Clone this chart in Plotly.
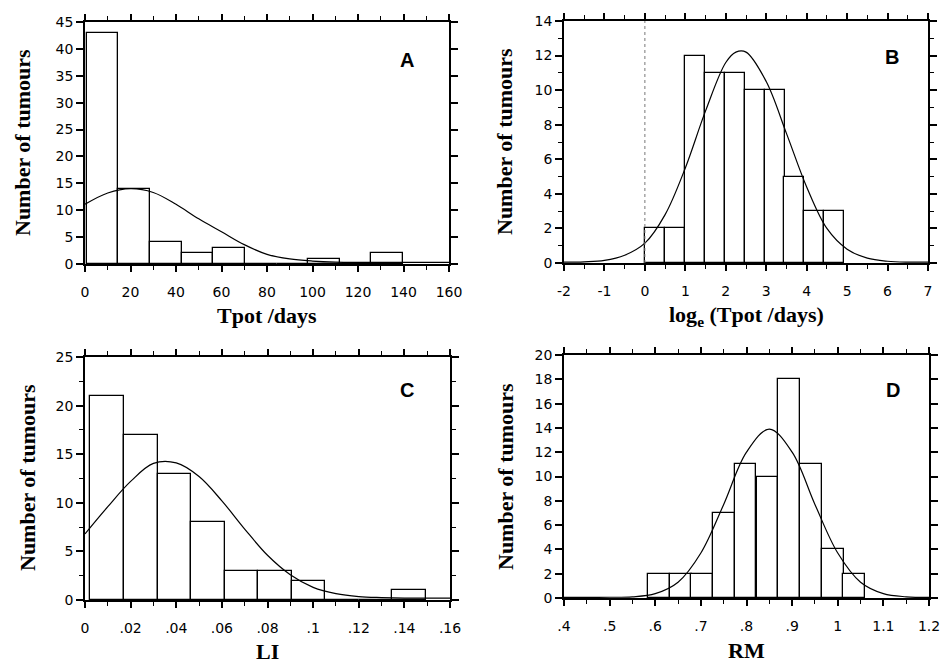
import plotly.graph_objects as go

# ---------------- data ----------------
# Panel A: Tpot /days
a_bin_left = [0.8, 14.7, 28.6, 42.5, 56.4, 70.3, 84.2, 98.1, 112.0, 125.9]
a_bin_width = 13.9
a_counts = [43, 14, 4, 2, 3, 0, 0, 1, 0, 2]
a_curve_x = [0, 10, 20, 30, 40, 50, 60, 70, 80, 90, 100, 110, 120, 130, 140, 150, 160]
a_curve_y = [11.1, 13.2, 14.0, 13.3, 11.1, 8.4, 6.0, 3.6, 1.8, 0.95, 0.55, 0.35, 0.3, 0.3, 0.3, 0.3, 0.3]
a_xticks = [0, 20, 40, 60, 80, 100, 120, 140, 160]
a_xtext = ["0", "20", "40", "60", "80", "100", "120", "140", "160"]
a_yticks = [0, 5, 10, 15, 20, 25, 30, 35, 40, 45]

# Panel B: log_e (Tpot /days)
b_bin_left = [0.0, 0.49, 0.99, 1.48, 1.97, 2.47, 2.96, 3.45, 3.94, 4.44]
b_bin_width = 0.493
b_counts = [2, 2, 12, 11, 11, 10, 10, 5, 3, 3]
b_curve_x = [-2, -1.5, -1, -0.5, 0, 0.5, 1, 1.5, 2, 2.25, 2.5, 3, 3.5, 4, 4.5, 5, 5.5, 6, 6.5, 7]
b_curve_y = [0.05, 0.07, 0.15, 0.45, 1.15, 2.8, 5.5, 8.8, 11.6, 12.2, 12.2, 10.5, 7.5, 4.4, 2.0, 0.8, 0.28, 0.1, 0.05, 0.05]
b_xticks = [-2, -1, 0, 1, 2, 3, 4, 5, 6, 7]
b_xtext = ["-2", "-1", "0", "1", "2", "3", "4", "5", "6", "7"]
b_yticks = [0, 2, 4, 6, 8, 10, 12, 14]
b_ref_x = 0

# Panel C: LI
c_bin_left = [0.0024, 0.0171, 0.0318, 0.0465, 0.0612, 0.0759, 0.0906, 0.1053, 0.1200, 0.1347]
c_bin_width = 0.0147
c_counts = [21, 17, 13, 8, 3, 3, 2, 0, 0, 1]
c_curve_x = [0, 0.01, 0.02, 0.03, 0.04, 0.05, 0.06, 0.07, 0.08, 0.09, 0.10, 0.11, 0.12, 0.13, 0.14, 0.15, 0.16]
c_curve_y = [6.8, 9.6, 12.2, 14.05, 14.1, 12.7, 10.2, 7.3, 4.6, 2.6, 1.3, 0.65, 0.35, 0.25, 0.2, 0.2, 0.2]
c_xticks = [0, 0.02, 0.04, 0.06, 0.08, 0.10, 0.12, 0.14, 0.16]
c_xtext = ["0", ".02", ".04", ".06", ".08", ".1", ".12", ".14", ".16"]
c_yticks = [0, 5, 10, 15, 20, 25]

# Panel D: RM
d_bin_left = [0.584, 0.632, 0.679, 0.727, 0.774, 0.822, 0.870, 0.917, 0.965, 1.012]
d_bin_width = 0.0476
d_counts = [2, 2, 2, 7, 11, 10, 18, 11, 4, 2]
d_curve_x = [0.40, 0.45, 0.50, 0.55, 0.60, 0.65, 0.70, 0.75, 0.80, 0.85, 0.90, 0.95, 1.00, 1.05, 1.10, 1.15, 1.20]
d_curve_y = [0.05, 0.05, 0.06, 0.1, 0.36, 1.3, 3.7, 7.7, 12.0, 13.9, 12.0, 7.7, 3.7, 1.3, 0.36, 0.1, 0.05]
d_xticks = [0.4, 0.5, 0.6, 0.7, 0.8, 0.9, 1.0, 1.1, 1.2]
d_xtext = [".4", ".5", ".6", ".7", ".8", ".9", "1", "1.1", "1.2"]
d_yticks = [0, 2, 4, 6, 8, 10, 12, 14, 16, 18, 20]

# ---------------- figure ----------------
W, H = 942, 664
fig = go.Figure()

panels = [
    dict(n="", left=a_bin_left, w=a_bin_width, cnt=a_counts, cx=a_curve_x, cy=a_curve_y),
    dict(n="2", left=b_bin_left, w=b_bin_width, cnt=b_counts, cx=b_curve_x, cy=b_curve_y),
    dict(n="3", left=c_bin_left, w=c_bin_width, cnt=c_counts, cx=c_curve_x, cy=c_curve_y),
    dict(n="4", left=d_bin_left, w=d_bin_width, cnt=d_counts, cx=d_curve_x, cy=d_curve_y),
]
for p in panels:
    fig.add_trace(go.Bar(x=p["left"], y=p["cnt"], width=p["w"], offset=0,
                         marker=dict(color="white", line=dict(color="black", width=1.3)),
                         xaxis="x" + p["n"], yaxis="y" + p["n"], showlegend=False))
    fig.add_trace(go.Scatter(x=p["cx"], y=p["cy"], mode="lines",
                             line=dict(color="black", width=1.2, shape="spline"),
                             xaxis="x" + p["n"], yaxis="y" + p["n"], showlegend=False))

tickfont = dict(family="DejaVu Sans", size=14, color="black")

def xax(dom_px, rng, tv, tt, minor_dtick, anchor):
    return dict(domain=[dom_px[0] / W, dom_px[1] / W], range=rng, anchor=anchor,
                automargin=False,
                tickmode="array", tickvals=tv, ticktext=tt, tickfont=tickfont,
                showline=True, linecolor="black", linewidth=1.5, mirror="allticks",
                ticks="outside", ticklen=6, tickwidth=1.5, tickcolor="black",
                minor=dict(tickmode="linear", tick0=rng[0], dtick=minor_dtick, ticks="outside",
                           ticklen=4, tickwidth=1.3, tickcolor="black"),
                showgrid=False, zeroline=False, ticklabelstandoff=8)

def yax(dom_px, rng, tv, minor_dtick, anchor):
    d = dict(domain=[1 - dom_px[1] / H, 1 - dom_px[0] / H], range=rng, anchor=anchor,
             automargin=False,
             tickmode="array", tickvals=tv, ticktext=[str(v) for v in tv], tickfont=tickfont,
             showline=True, linecolor="black", linewidth=1.5, mirror="allticks",
             ticks="outside", ticklen=7, tickwidth=1.5, tickcolor="black",
             showgrid=False, zeroline=False)
    if minor_dtick:
        d["minor"] = dict(tickmode="linear", tick0=0, dtick=minor_dtick, ticks="outside",
                          ticklen=4, tickwidth=1.3, tickcolor="black")
    return d

fig.update_layout(
    width=W, height=H, margin=dict(l=0, r=0, t=0, b=0, pad=0),
    paper_bgcolor="white", plot_bgcolor="white", bargap=0,
    xaxis=xax((85, 449), [0, 160], a_xticks, a_xtext, 10, "y"),
    yaxis=yax((22, 264), [0, 45], a_yticks, None, "x"),
    xaxis2=xax((564, 928), [-2, 7], b_xticks, b_xtext, 0.5, "y2"),
    yaxis2=yax((21, 263), [0, 14], b_yticks, 1, "x2"),
    xaxis3=xax((85, 450), [0, 0.16], c_xticks, c_xtext, 0.01, "y3"),
    yaxis3=yax((357, 600), [0, 25], c_yticks, 2.5, "x3"),
    xaxis4=xax((564, 929), [0.4, 1.2], d_xticks, d_xtext, 0.05, "y4"),
    yaxis4=yax((355, 598), [0, 20], d_yticks, None, "x4"),
)

fig.add_vline(x=b_ref_x, xref="x2", yref="y2", line=dict(color="#777777", width=1, dash="dot"))

title_font = dict(family="Liberation Serif", size=22, color="black")
letter_font = dict(family="Liberation Sans", size=20, color="black")

def ann(px, py, text, font, angle=0):
    fig.add_annotation(x=px / W, y=1 - py / H, xref="paper", yref="paper", text=text,
                       showarrow=False, font=font, textangle=angle,
                       xanchor="center", yanchor="middle")

ann(267, 316, "<b>Tpot /days</b>", title_font)
ann(746, 316, "<b>log<sub>e</sub> (Tpot /days)</b>", title_font)
ann(267, 651, "<b>LI</b>", title_font)
ann(746, 650, "<b>RM</b>", title_font)
ann(22, 143, "<b>Number of tumours</b>", title_font, -90)
ann(504, 142, "<b>Number of tumours</b>", title_font, -90)
ann(27, 478, "<b>Number of tumours</b>", title_font, -90)
ann(505, 477, "<b>Number of tumours</b>", title_font, -90)
ann(407, 60, "<b>A</b>", letter_font)
ann(892, 57, "<b>B</b>", letter_font)
ann(407, 390, "<b>C</b>", letter_font)
ann(893, 390, "<b>D</b>", letter_font)

fig.write_html(
    "out.html",
    config={"displayModeBar": False},
    post_script="document.body.style.margin='0';document.body.style.overflow='hidden';",
)
